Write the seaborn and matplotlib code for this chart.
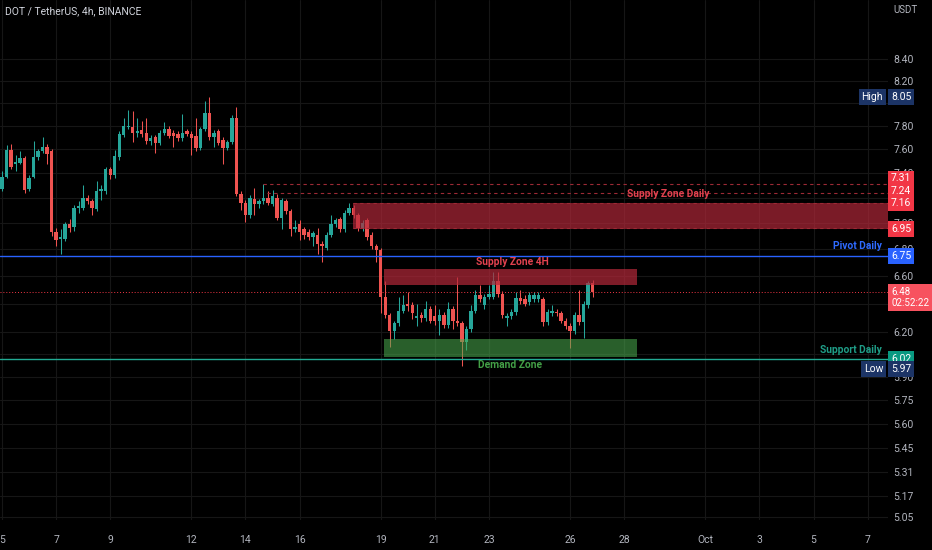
import numpy as np
import pandas as pd
import matplotlib
matplotlib.use("Agg")
import matplotlib.pyplot as plt
import matplotlib.transforms as mtransforms
from matplotlib.ticker import FuncFormatter, NullLocator, NullFormatter
from matplotlib import font_manager
import seaborn as sns

# ---- data (DOT/USDT, 4h candles from Sep 5) ----
title = "DOT / TetherUS, 4h, BINANCE"
first_day = 5.0
bar_hours = 4

opens = [7.27, 7.37, 7.59, 7.47, 7.48, 7.52, 7.27, 7.37, 7.53, 7.58,
         7.62, 7.58, 6.93, 6.88, 6.88, 6.99, 6.97, 7.12, 7.12, 7.20,
         7.17, 7.11, 7.25, 7.25, 7.43, 7.38, 7.53, 7.72, 7.79, 7.79,
         7.74, 7.76, 7.74, 7.67, 7.70, 7.65, 7.74, 7.77, 7.74, 7.73,
         7.69, 7.75, 7.73, 7.71, 7.61, 7.77, 7.91, 7.70, 7.75, 7.68,
         7.61, 7.66, 7.87, 7.23, 7.16, 7.06, 7.19, 7.15, 7.17, 7.20,
         7.15, 7.20, 7.04, 7.17, 7.09, 6.95, 6.99, 6.95, 6.93, 6.89,
         6.91, 6.84, 6.81, 6.91, 6.99, 7.03, 6.95, 7.08, 7.12, 7.06,
         6.96, 7.02, 6.91, 6.82, 6.79, 6.45, 6.32, 6.21, 6.26, 6.35,
         6.40, 6.39, 6.30, 6.32, 6.30, 6.36, 6.31, 6.28, 6.32, 6.25,
         6.36, 6.28, 6.26, 6.13, 6.22, 6.35, 6.46, 6.39, 6.45, 6.45,
         6.56, 6.47, 6.30, 6.31, 6.34, 6.44, 6.43, 6.41, 6.43, 6.43,
         6.43, 6.27, 6.33, 6.34, 6.33, 6.28, 6.24, 6.21, 6.32, 6.27,
         6.39, 6.55]
closes = [7.37, 7.59, 7.45, 7.49, 7.52, 7.26, 7.36, 7.53, 7.58, 7.62,
          7.56, 6.93, 6.87, 6.89, 6.99, 6.96, 7.12, 7.13, 7.20, 7.17,
          7.12, 7.25, 7.27, 7.43, 7.38, 7.54, 7.73, 7.80, 7.80, 7.74,
          7.75, 7.73, 7.67, 7.69, 7.65, 7.74, 7.77, 7.71, 7.71, 7.69,
          7.74, 7.73, 7.69, 7.61, 7.77, 7.91, 7.70, 7.74, 7.65, 7.61,
          7.66, 7.87, 7.23, 7.16, 7.06, 7.20, 7.15, 7.17, 7.20, 7.16,
          7.21, 7.04, 7.18, 7.09, 6.95, 6.97, 6.93, 6.91, 6.89, 6.92,
          6.84, 6.82, 6.91, 6.99, 7.02, 6.95, 7.08, 7.12, 7.06, 6.96,
          7.00, 6.89, 6.82, 6.79, 6.45, 6.32, 6.21, 6.26, 6.35, 6.39,
          6.38, 6.33, 6.31, 6.30, 6.36, 6.28, 6.28, 6.32, 6.25, 6.36,
          6.28, 6.26, 6.13, 6.22, 6.35, 6.46, 6.43, 6.45, 6.47, 6.56,
          6.47, 6.32, 6.31, 6.34, 6.44, 6.42, 6.40, 6.46, 6.46, 6.46,
          6.27, 6.34, 6.35, 6.33, 6.28, 6.24, 6.21, 6.32, 6.27, 6.40,
          6.55, 6.48]
highs = [7.42, 7.63, 7.64, 7.55, 7.58, 7.54, 7.38, 7.67, 7.60, 7.70,
         7.64, 7.60, 6.96, 6.95, 7.01, 7.03, 7.14, 7.17, 7.30, 7.22,
         7.19, 7.33, 7.30, 7.45, 7.45, 7.59, 7.75, 7.87, 7.94, 7.93,
         7.87, 7.84, 7.87, 7.72, 7.72, 7.76, 7.83, 7.80, 7.76, 7.75,
         7.90, 7.77, 7.75, 7.87, 7.79, 8.02, 8.05, 7.76, 7.77, 7.70,
         7.68, 7.89, 7.96, 7.25, 7.18, 7.22, 7.28, 7.19, 7.31, 7.25,
         7.26, 7.23, 7.20, 7.19, 7.11, 7.02, 7.02, 6.97, 6.95, 6.94,
         6.96, 6.86, 6.93, 7.06, 7.04, 7.05, 7.10, 7.16, 7.14, 7.08,
         7.02, 7.04, 6.93, 6.84, 6.81, 6.56, 6.33, 6.28, 6.45, 6.46,
         6.48, 6.41, 6.40, 6.34, 6.42, 6.38, 6.39, 6.36, 6.34, 6.41,
         6.38, 6.59, 6.28, 6.24, 6.39, 6.50, 6.53, 6.47, 6.53, 6.63,
         6.63, 6.49, 6.33, 6.36, 6.48, 6.50, 6.46, 6.48, 6.48, 6.48,
         6.45, 6.36, 6.39, 6.36, 6.35, 6.30, 6.26, 6.34, 6.50, 6.42,
         6.56, 6.57]
lows = [7.25, 7.36, 7.43, 7.42, 7.47, 7.24, 7.25, 7.36, 7.51, 7.57,
        7.47, 6.90, 6.82, 6.76, 6.86, 6.93, 6.94, 7.08, 7.10, 7.15,
        7.06, 7.09, 7.18, 7.23, 7.35, 7.36, 7.51, 7.70, 7.77, 7.66,
        7.70, 7.70, 7.64, 7.63, 7.57, 7.63, 7.72, 7.69, 7.62, 7.67,
        7.67, 7.71, 7.55, 7.58, 7.59, 7.75, 7.68, 7.62, 7.63, 7.47,
        7.59, 7.64, 7.21, 7.10, 7.01, 7.04, 7.06, 7.12, 7.15, 7.14,
        7.13, 7.02, 6.95, 7.07, 6.90, 6.93, 6.87, 6.88, 6.87, 6.82,
        6.76, 6.70, 6.79, 6.89, 6.97, 6.93, 6.93, 7.06, 7.04, 6.94,
        6.94, 6.87, 6.80, 6.70, 6.33, 6.30, 6.10, 6.15, 6.24, 6.33,
        6.35, 6.29, 6.24, 6.27, 6.28, 6.26, 6.25, 6.18, 6.23, 6.23,
        6.22, 6.24, 5.97, 6.08, 6.20, 6.33, 6.41, 6.36, 6.43, 6.43,
        6.45, 6.30, 6.24, 6.29, 6.32, 6.40, 6.38, 6.39, 6.41, 6.41,
        6.24, 6.25, 6.31, 6.31, 6.26, 6.22, 6.09, 6.19, 6.25, 6.16,
        6.37, 6.45]

day_ticks = [5, 7, 9, 12, 14, 16, 19, 21, 23, 26, 28, 31, 33, 35, 37]
day_labels = ["5", "7", "9", "12", "14", "16", "19", "21", "23", "26",
              "28", "Oct", "3", "5", "7"]
price_ticks = [8.40, 8.20, 8.00, 7.80, 7.60, 7.40, 7.20, 7.00, 6.80, 6.60,
               6.40, 6.20, 6.05, 5.90, 5.75, 5.60, 5.45, 5.31, 5.17, 5.05]
# scale labels that sit fully under a price tag in the reference
hidden_ticks = [8.00, 7.20, 6.40, 6.05]

pivot_daily = 6.75
support_daily = 6.02
supply_daily = (6.95, 7.16)
supply_daily_lines = [7.31, 7.24]
supply_4h = (6.535, 6.65)
demand_zone = (6.033, 6.155)
last_price = 6.48
countdown = "02:52:22"
high_price = 8.05
low_price = 5.97

df = pd.DataFrame({"open": opens, "high": highs, "low": lows, "close": closes})
df["t"] = first_day + np.arange(len(df)) * bar_hours / 24.0
df["up"] = df["close"] >= df["open"]

# ---- style ----
sns.set_theme(style="dark", rc={"axes.facecolor": "#000000",
                                "figure.facecolor": "#000000",
                                "savefig.facecolor": "#000000"})
names = {f.name for f in font_manager.fontManager.ttflist}
main_font = "Liberation Sans Narrow" if "Liberation Sans Narrow" in names else "Roboto"
plt.rcParams["font.family"] = [main_font, "DejaVu Sans"]

UP, DOWN = "#26a69a", "#ef5350"
AXIS_TXT = "#b2b5be"
GRID = "#161616"

fig = plt.figure(figsize=(9.32, 5.5), dpi=100)
ax = fig.add_axes([0, 30 / 550, 888 / 932, 520 / 550])
ax.set_yscale("log")
ax.set_ylim(5.032, 8.968)
ax.set_xlim(4.926, 37.754)

for s in ax.spines.values():
    s.set_visible(False)


def fmt_price(v, pos):
    if any(abs(v - h) < 1e-6 for h in hidden_ticks):
        return ""
    return f"{v:.2f}"


ax.set_yticks(price_ticks)
ax.yaxis.set_major_formatter(FuncFormatter(fmt_price))
ax.yaxis.set_minor_locator(NullLocator())
ax.yaxis.set_minor_formatter(NullFormatter())
ax.yaxis.tick_right()
ax.tick_params(axis="y", length=0, pad=4, labelsize=7.5, labelcolor=AXIS_TXT)
ax.set_xticks(day_ticks, day_labels)
ax.tick_params(axis="x", length=4, width=0.8, color="#2a2a2a", pad=7,
               labelsize=7.5, labelcolor=AXIS_TXT)
ax.grid(True, color=GRID, lw=0.8)
ax.set_axisbelow(True)

# ---- candles ----
colors = np.where(df["up"], UP, DOWN)
ax.vlines(df["t"], df["low"], df["high"], colors=colors, lw=0.75, zorder=2)
body = np.maximum((df["close"] - df["open"]).abs(), 0.008)
ax.bar(df["t"], body, bottom=np.minimum(df["open"], df["close"]),
       width=0.125, color=colors, lw=0, zorder=3)

xmax = ax.get_xlim()[1]

# ---- zones ----
ax.fill_between([17.98, xmax], *supply_daily, color="#b5283a", alpha=0.68,
                lw=0, zorder=4)
ax.fill_between([19.12, 28.47], *supply_4h, color="#b5283a", alpha=0.7,
                lw=0, zorder=4)
ax.fill_between([19.12, 28.47], *demand_zone, color="#4caf50", alpha=0.55,
                lw=0, zorder=4)

dash = dict(color="#9c2a35", lw=0.8, ls=(0, (3, 3)), zorder=5)
ax.plot([14.65, xmax], [supply_daily_lines[0]] * 2, **dash)
ax.plot([14.80, xmax], [supply_daily_lines[1]] * 2, **dash)
ax.plot([17.98, xmax], [supply_daily[1]] * 2, **dash)
ax.plot([17.98, xmax], [supply_daily[0] * 1.002] * 2, **dash)

ax.axhline(pivot_daily, color="#2962ff", lw=1.0, zorder=5)
ax.axhline(support_daily, color="#22ab94", lw=1.0, zorder=5)
ax.axhline(last_price, color="#f23645", lw=0.7, ls=(0, (1, 2)), zorder=5)

# zone labels
lab = dict(fontsize=7.4, fontweight="bold", va="center", zorder=6)
ax.text(29.62, 7.229, "Supply Zone Daily", color="#e2424f", ha="center", **lab)
ax.text(23.85, 6.70, "Supply Zone 4H", color="#e2424f", ha="center", **lab)
ax.text(23.78, 5.98, "Demand Zone", color="#43a047", ha="center", **lab)
ax.text(37.53, 6.82, "Pivot Daily", color="#2f6bff", ha="right", **lab)
ax.text(37.53, 6.08, "Support Daily", color="#1f9e88", ha="right", **lab)

# ---- price tags on the right scale ----
trans = mtransforms.blended_transform_factory(ax.transAxes, ax.transData)


def price_tag(price, text, fc, x=1.0034, ha="left", dy=0, size=7.5):
    ax.annotate(text, xy=(x, price), xycoords=trans, xytext=(0, dy),
                textcoords="offset pixels", ha=ha, va="center",
                fontsize=size, color="white", annotation_clip=False,
                linespacing=1.15, zorder=10,
                bbox=dict(boxstyle="square,pad=0.28", fc=fc, ec="none"))


price_tag(high_price, f"{high_price:.2f}", "#1c3466")
price_tag(high_price, "High", "#1c3466", x=0.9944, ha="right")
price_tag(supply_daily_lines[0], f"{supply_daily_lines[0]:.2f}", "#f23645", dy=5.5)
price_tag(supply_daily_lines[1], f"{supply_daily_lines[1]:.2f}", "#f23645", dy=2)
price_tag(supply_daily[1], f"{supply_daily[1]:.2f}", "#f23645", dy=-0.5)
price_tag(supply_daily[0], f"{supply_daily[0]:.2f}", "#f23645")
price_tag(pivot_daily, f"{pivot_daily:.2f}", "#2962ff")
price_tag(last_price, f"{last_price:.2f}\n{countdown}", "#f7525f", dy=-5, size=7)
price_tag(support_daily, f"{support_daily:.2f}", "#089981")
price_tag(low_price, f"{low_price:.2f}", "#1c3466", dy=-3)
price_tag(low_price, "Low", "#1c3466", x=0.9944, ha="right", dy=-3)

fig.text(5 / 932, 1 - 11 / 550, title, color="#d1d4dc", fontsize=7.5,
         ha="left", va="center")
fig.text(893 / 932, 1 - 10 / 550, "USDT", color=AXIS_TXT, fontsize=7,
         ha="left", va="center")

fig.savefig("out.png", dpi=100)
